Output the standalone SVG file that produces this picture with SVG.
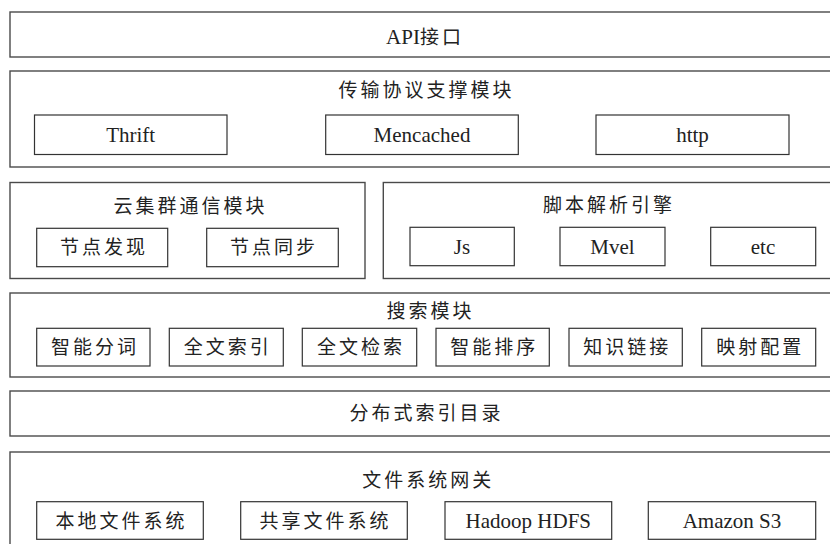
<svg xmlns="http://www.w3.org/2000/svg" width="830" height="544" viewBox="0 0 830 544">
<style>
.outer{fill:#fff;stroke:#4a4a4a;stroke-width:1.4}
.inner{fill:#fff;stroke:#333;stroke-width:1.2}
.zh{font-family:"Noto Sans CJK SC","Liberation Sans",sans-serif;font-size:19px;letter-spacing:3px;fill:#222;text-anchor:middle}
.en{font-family:"Liberation Serif","Noto Sans CJK SC",serif;font-size:21px;fill:#222;text-anchor:middle}
</style>
<rect width="830" height="544" fill="#fff"/>
<g id="api">
<rect class="outer" x="10" y="12" width="828" height="45"/>
<text class="en" x="425" y="44">API<tspan style="font-family:'Noto Sans CJK SC',sans-serif;font-size:19px;letter-spacing:3px">接口</tspan></text>
</g>
<g id="transport">
<rect class="outer" x="10" y="71" width="828" height="96"/>
<text class="zh" x="426.5" y="97">传输协议支撑模块</text>
<g id="thrift"><rect class="inner" x="34.5" y="115" width="192.5" height="39.5"/><text class="en" x="130.7" y="142">Thrift</text></g>
<g id="mencached"><rect class="inner" x="325.7" y="115" width="192.6" height="39.5"/><text class="en" x="422" y="142">Mencached</text></g>
<g id="http"><rect class="inner" x="596" y="115" width="193" height="39.5"/><text class="en" x="692.5" y="142">http</text></g>
</g>
<g id="cloud">
<rect class="outer" x="10" y="182.5" width="355" height="96"/>
<text class="zh" x="190.5" y="212.5">云集群通信模块</text>
<g id="discover"><rect class="inner" x="36.7" y="228.3" width="131" height="38.4"/><text class="zh" x="104" y="254">节点发现</text></g>
<g id="sync"><rect class="inner" x="206.7" y="228.3" width="131.6" height="38.4"/><text class="zh" x="274" y="254">节点同步</text></g>
</g>
<g id="script">
<rect class="outer" x="383.3" y="182.5" width="455" height="96"/>
<text class="zh" x="609" y="212">脚本解析引擎</text>
<g id="js"><rect class="inner" x="410" y="227.3" width="104.3" height="38.4"/><text class="en" x="462" y="254">Js</text></g>
<g id="mvel"><rect class="inner" x="560" y="227.3" width="105" height="38.4"/><text class="en" x="612.5" y="254">Mvel</text></g>
<g id="etc"><rect class="inner" x="710.7" y="227.3" width="105" height="38.4"/><text class="en" x="763" y="254">etc</text></g>
</g>
<g id="search">
<rect class="outer" x="10" y="293" width="828" height="84"/>
<text class="zh" x="430.5" y="317.5">搜索模块</text>
<g id="s1"><rect class="inner" x="36.7" y="328.3" width="113.3" height="37.7"/><text class="zh" x="95" y="354">智能分词</text></g>
<g id="s2"><rect class="inner" x="169.3" y="328.3" width="114" height="37.7"/><text class="zh" x="227.8" y="354">全文索引</text></g>
<g id="s3"><rect class="inner" x="302.3" y="328.3" width="114.4" height="37.7"/><text class="zh" x="361" y="354">全文检索</text></g>
<g id="s4"><rect class="inner" x="436" y="328.3" width="113.3" height="37.7"/><text class="zh" x="494.2" y="354">智能排序</text></g>
<g id="s5"><rect class="inner" x="569" y="328.3" width="113.3" height="37.7"/><text class="zh" x="627.2" y="354">知识链接</text></g>
<g id="s6"><rect class="inner" x="701.7" y="328.3" width="114" height="37.7"/><text class="zh" x="760.2" y="354">映射配置</text></g>
</g>
<g id="dist">
<rect class="outer" x="10" y="391" width="828" height="45"/>
<text class="zh" x="426.5" y="420">分布式索引目录</text>
</g>
<g id="fs">
<rect class="outer" x="10" y="452" width="828" height="100"/>
<text class="zh" x="428.2" y="487">文件系统网关</text>
<g id="f1"><rect class="inner" x="36.7" y="501.7" width="166.6" height="37.6"/><text class="zh" x="121.5" y="527.5">本地文件系统</text></g>
<g id="f2"><rect class="inner" x="240.7" y="501.7" width="166.6" height="37.6"/><text class="zh" x="325.5" y="527.5">共享文件系统</text></g>
<g id="f3"><rect class="inner" x="445" y="501.7" width="166.7" height="37.6"/><text class="en" x="528.3" y="528">Hadoop HDFS</text></g>
<g id="f4"><rect class="inner" x="648.3" y="501.7" width="167.4" height="37.6"/><text class="en" x="732" y="528">Amazon S3</text></g>
</g>
<g id="connectors"></g>
</svg>
